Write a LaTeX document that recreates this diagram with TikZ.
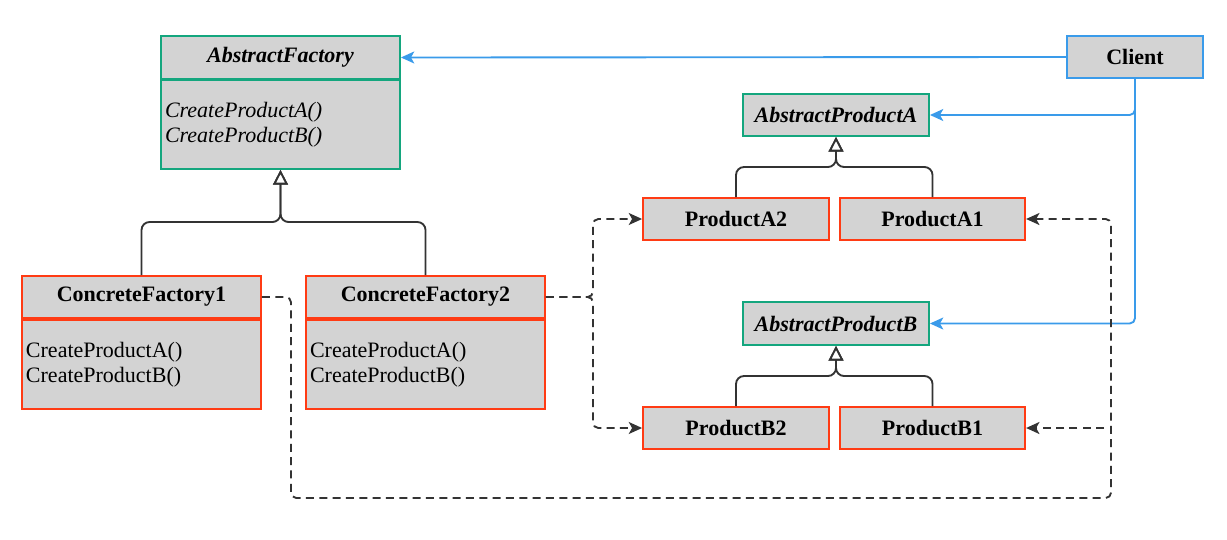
\documentclass[tikz,border=0pt]{standalone}
\usepackage{fontspec}
\setmainfont{Liberation Serif}
\usetikzlibrary{arrows.meta}
\definecolor{umlgreen}{HTML}{14A67E}
\definecolor{umlred}{HTML}{FF3B14}
\definecolor{umlblue}{HTML}{3A9BEA}
\definecolor{umlfill}{HTML}{D3D3D3}
\definecolor{umlline}{HTML}{333333}
\begin{document}
\begin{tikzpicture}[x=0.75pt,y=-0.75pt,
    box/.style={draw,fill=umlfill,line width=1.4pt,inner sep=0pt,
      font=\fontsize{16.5}{18.75}\selectfont},
    greenbox/.style={box,draw=umlgreen},
    redbox/.style={box,draw=umlred},
    bluebox/.style={box,draw=umlblue},
    body/.style={align=left,text width=#1,inner xsep=3pt},
    blueline/.style={draw=umlblue,line width=1.4pt,rounded corners=4pt,
      -{Stealth[length=10pt,width=9pt,inset=2.5pt]}},
    inherit/.style={draw=umlline,line width=1.4pt,rounded corners=6pt,
      -{Triangle[open,fill=white,length=11pt,width=11pt]}},
    depline/.style={draw=umlline,line width=1.4pt,rounded corners=4pt,
      dash pattern=on 6pt off 4pt,-{Stealth[length=10pt,width=9pt,inset=2.5pt]}}]
  \useasboundingbox (0,0) rectangle (1227,539);
  % abstract factory and client
  \node[greenbox,minimum width=179.25pt,minimum height=32.25pt] (af) at (280.5,57.5)
    {\textbf{\textit{AbstractFactory}}};
  \node[greenbox,minimum width=179.25pt,minimum height=66.75pt,body=173.25pt] (afbody) at (280.5,124.5)
    {\textit{CreateProductA()}\\\textit{CreateProductB()}};
  \node[bluebox,minimum width=102pt,minimum height=31.5pt] (client) at (1135,57)
    {\textbf{Client}};
  % concrete factories
  \node[redbox,minimum width=179.25pt,minimum height=31.5pt] (cf1) at (141.5,297)
    {\textbf{ConcreteFactory1}};
  \node[redbox,minimum width=179.25pt,minimum height=66.75pt,body=173.25pt] (cf1body) at (141.5,364.5)
    {CreateProductA()\\CreateProductB()};
  \node[redbox,minimum width=179.25pt,minimum height=31.5pt] (cf2) at (425.5,297)
    {\textbf{ConcreteFactory2}};
  \node[redbox,minimum width=179.25pt,minimum height=66.75pt,body=173.25pt] (cf2body) at (425.5,364.5)
    {CreateProductA()\\CreateProductB()};
  % products
  \node[greenbox,minimum width=139.5pt,minimum height=31.5pt] (apa) at (836,115)
    {\textbf{\textit{AbstractProductA}}};
  \node[redbox,minimum width=139.5pt,minimum height=31.5pt] (pa2) at (736,219)
    {\textbf{ProductA2}};
  \node[redbox,minimum width=139pt,minimum height=31.5pt] (pa1) at (932.5,219)
    {\textbf{ProductA1}};
  \node[greenbox,minimum width=139.5pt,minimum height=32.25pt] (apb) at (836,323.5)
    {\textbf{\textit{AbstractProductB}}};
  \node[redbox,minimum width=139.5pt,minimum height=31.5pt] (pb2) at (736,428)
    {\textbf{ProductB2}};
  \node[redbox,minimum width=139pt,minimum height=31.5pt] (pb1) at (932.5,428)
    {\textbf{ProductB1}};
  % junction points
  \coordinate (afj) at (280.5,222);
  \coordinate (apaj) at (836,167);
  \coordinate (apbj) at (836,376);
  \coordinate (cf2j) at (593,297);
  \coordinate (cf1j) at (291,297);
  \coordinate (dlow) at (1111,498);
  \coordinate (dmid) at (1104,428);
  % client uses
  \draw[blueline] (client.west) -- (af.east);
  \draw[blueline] (client.south) |- (apa.east);
  \draw[blueline] (client.south) |- (apb.east);
  % generalisation
  \draw[inherit] (cf1.north) |- (afj) -- (afbody.south);
  \draw[inherit] (cf2.north) |- (afj) -- (afbody.south);
  \draw[inherit] (pa2.north) |- (apaj) -- (apa.south);
  \draw[inherit] (pa1.north) |- (apaj) -- (apa.south);
  \draw[inherit] (pb2.north) |- (apbj) -- (apb.south);
  \draw[inherit] (pb1.north) |- (apbj) -- (apb.south);
  % creates
  \draw[depline] (cf2.east) -- (cf2j) |- (pa2.west);
  \draw[depline] (cf2.east) -- (cf2j) |- (pb2.west);
  \draw[depline] (cf1.east) -- (cf1j) |- (dlow) |- (pa1.east);
  \draw[depline] (dmid) -- (pb1.east);
\end{tikzpicture}
\end{document}
